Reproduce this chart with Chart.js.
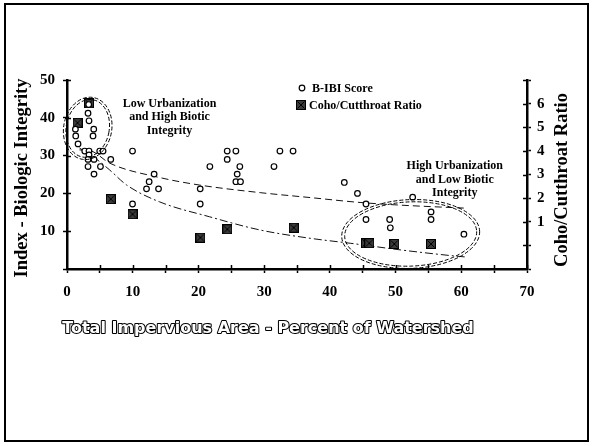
<!DOCTYPE html>
<html>
<head>
<meta charset="utf-8">
<script src="https://cdn.jsdelivr.net/npm/chart.js@4/dist/chart.umd.min.js"></script>
<style>
  html, body { margin: 0; padding: 0; background: #fff; }
  #wrap { position: relative; width: 592px; height: 446px; }
  #frame { position: absolute; left: 4px; top: 3px; width: 581px; height: 435px; border: 2px solid #000; pointer-events: none; }
</style>
</head>
<body>
<div id="wrap">
  <canvas id="c" width="592" height="446"></canvas>
  <div id="frame"></div>
</div>
<script>
// B-IBI scores by total impervious area (%)
const bibiX = [3.2, 3.35, 3.3, 4.07, 3.96, 1.28, 1.33, 1.68, 2.7, 3.35, 4.98, 5.49, 3.35, 3.2, 4.11, 6.66,
               3.2, 5.09, 4.11, 9.97, 13.26, 12.5, 12.1, 13.93, 9.97, 20.27, 20.27, 21.74, 24.38, 25.7,
               24.38, 26.3, 25.9, 25.7, 26.4, 31.5, 32.4, 34.4, 42.2, 44.2, 45.5, 45.5, 49.1, 49.2,
               52.6, 55.4, 55.4, 60.4];
const bibiY = [41.2, 39.2, 43.5, 37.0, 35.2, 37.0, 35.2, 33.1, 31.2, 31.2, 31.2, 31.2, 30.2, 29.0, 29.0, 29.0,
               27.1, 27.1, 25.1, 31.2, 25.1, 23.1, 21.2, 21.2, 17.2, 21.2, 17.2, 27.1, 31.2, 31.2,
               29.0, 27.1, 25.1, 23.1, 23.1, 27.1, 31.2, 31.2, 22.9, 20.0, 17.2, 13.1, 13.1, 10.9,
               19.0, 15.1, 13.1, 9.2];

// Coho/cutthroat ratio by total impervious area (%)
const cohoX = [1.6, 3.35, 6.66, 9.97, 20.3, 24.4, 34.5, 45.5, 46.0, 49.8, 55.4];
const cohoRatio = [5.19, 6.01, 1.96, 1.32, 0.33, 0.68, 0.75, 0.09, 0.09, 0.06, 0.06];

// Fitted trend curves
const bibiTrendX = [1.9, 3.7, 6.5, 14.1, 20.2, 29.4, 37.0, 44.6, 50.7, 60.6];
const bibiTrendY = [31.5, 31.2, 28.0, 24.2, 22.2, 20.2, 18.9, 17.6, 16.9, 16.1];
const cohoTrendX = [1.9, 4.0, 6.5, 9.05, 14.1, 21.7, 29.4, 37.0, 43.1, 50.7, 58.3, 60.6];
const cohoTrendY = [4.12, 3.75, 3.19, 2.56, 1.84, 1.21, 0.65, 0.30, 0.09, -0.19, -0.43, -0.49];

// Axis ranges and labelled ticks
const xRange = [0, 70];
const bibiRange = [0, 50];
const ratioRange = [-1, 7];
const ratioLabels = [1, 2, 3, 4, 5, 6];

const lowNote = ['Low Urbanization', 'and High Biotic', 'Integrity'];
const highNote = ['High Urbanization', 'and Low Biotic', 'Integrity'];

const SERIF = '"Liberation Serif", "Times New Roman", serif';

function pts(xs, ys) { return xs.map((x, i) => ({ x: x, y: ys[i] })); }

// filled square marker with a cross through it
function makeSquare(size) {
  const c = document.createElement('canvas');
  c.width = size; c.height = size;
  const g = c.getContext('2d');
  g.fillStyle = '#3a3a3a';
  g.fillRect(0, 0, size, size);
  g.strokeStyle = '#000';
  g.lineWidth = 1;
  g.strokeRect(0.5, 0.5, size - 1, size - 1);
  g.beginPath();
  g.moveTo(1.5, 1.5); g.lineTo(size - 1.5, size - 1.5);
  g.moveTo(size - 1.5, 1.5); g.lineTo(1.5, size - 1.5);
  g.stroke();
  return c;
}
const squareMark = makeSquare(10);

const decor = {
  id: 'decor',
  afterDatasetsDraw(chart) {
    const g = chart.ctx;
    const xs = chart.scales.x, ys = chart.scales.y;
    const X = v => xs.getPixelForValue(v);
    const Y = v => ys.getPixelForValue(v);
    const W = v => X(v) - X(0);
    const H = v => Y(0) - Y(v);

    // circled groups
    g.save();
    g.strokeStyle = '#000';
    g.lineWidth = 1;
    g.setLineDash([4, 2]);
    const ell = (cx, cy, rx, ry, rot) => {
      g.beginPath();
      g.ellipse(X(cx), Y(cy), W(rx), H(ry), rot, 0, Math.PI * 2);
      g.stroke();
    };
    ell(3.15, 37.2, 3.28, 7.7, 0.18);
    ell(3.15, 37.2, 3.66, 8.3, 0.18);
    ell(52.3, 9.26, 10.05, 8.5, -0.04);
    ell(52.3, 9.26, 10.5, 9.1, -0.04);
    g.restore();

    // notes
    g.save();
    g.fillStyle = '#000';
    g.font = 'bold 12px ' + SERIF;
    g.textAlign = 'center';
    g.textBaseline = 'middle';
    lowNote.forEach((t, i) => g.fillText(t, X(15.6), Y(43.8) + i * 13.8));
    highNote.forEach((t, i) => g.fillText(t, X(59.0), Y(27.2) + i * 13.6));

    // legend
    g.textAlign = 'left';
    g.beginPath();
    g.arc(302, 88, 2.8, 0, Math.PI * 2);
    g.fillStyle = '#fff';
    g.fill();
    g.lineWidth = 1.2;
    g.strokeStyle = '#000';
    g.stroke();
    g.fillStyle = '#000';
    g.fillText('B-IBI Score', 312, 88.5);
    g.drawImage(squareMark, 296, 100);
    g.fillText('Coho/Cutthroat Ratio', 309, 105.5);
    g.restore();
  },
  afterDraw(chart) {
    const g = chart.ctx;
    const xs = chart.scales.x, ys = chart.scales.y, y2 = chart.scales.y2;
    g.save();
    g.strokeStyle = '#000';
    g.lineWidth = 1.5;
    g.beginPath();
    // inner halves of the tick marks
    xs.ticks.forEach(t => {
      if (t.value === xRange[0]) return;
      const p = Math.round(xs.getPixelForValue(t.value)) + 0.5;
      g.moveTo(p, xs.top); g.lineTo(p, xs.top - 4);
    });
    ys.ticks.forEach(t => {
      if (t.value === bibiRange[0]) return;
      const p = Math.round(ys.getPixelForValue(t.value)) + 0.5;
      g.moveTo(ys.right, p); g.lineTo(ys.right + 4, p);
    });
    y2.ticks.forEach(t => {
      if (t.value === ratioRange[0]) return;
      const p = Math.round(y2.getPixelForValue(t.value)) + 0.5;
      g.moveTo(y2.left, p); g.lineTo(y2.left - 4, p);
    });
    g.stroke();

    // axis titles
    g.fillStyle = '#000';
    g.font = 'bold 18.5px ' + SERIF;
    g.textAlign = 'center';
    g.textBaseline = 'middle';
    g.save();
    g.translate(22, 178);
    g.rotate(-Math.PI / 2);
    g.fillText('Index - Biologic Integrity', 0, 0);
    g.restore();
    g.save();
    g.translate(562, 180);
    g.rotate(-Math.PI / 2);
    g.fillText('Coho/Cutthroat Ratio', 0, 0);
    g.restore();

    // hollow x-axis title
    g.font = 'bold 16px "DejaVu Sans", sans-serif';
    g.lineJoin = 'round';
    g.lineWidth = 2.1;
    g.strokeStyle = '#000';
    g.strokeText('Total Impervious Area - Percent of Watershed', 268, 329);
    g.fillStyle = '#fff';
    g.fillText('Total Impervious Area - Percent of Watershed', 268, 329);
    g.restore();
  }
};

const tickFont = { family: SERIF, size: 15, weight: 'bold' };
const axisGrid = { display: true, drawOnChartArea: false, drawTicks: true, tickLength: 4, color: '#000', tickColor: '#000', tickWidth: 1.5 };
const axisBorder = { display: true, color: '#000', width: 2.5 };

new Chart(document.getElementById('c'), {
  type: 'scatter',
  data: {
    datasets: [
      {
        label: 'Coho/Cutthroat Ratio',
        data: pts(cohoX, cohoRatio),
        yAxisID: 'y2',
        pointStyle: squareMark,
        pointRadius: 5,
        order: 1
      },
      {
        label: 'B-IBI Score',
        data: pts(bibiX, bibiY),
        yAxisID: 'y',
        pointStyle: 'circle',
        pointRadius: 2.8,
        borderWidth: 1.2,
        borderColor: '#000',
        backgroundColor: '#fff',
        order: 0
      },
      {
        label: 'B-IBI trend',
        data: pts(bibiTrendX, bibiTrendY),
        yAxisID: 'y',
        showLine: true,
        pointRadius: 0,
        borderColor: '#111',
        borderWidth: 1,
        borderDash: [7, 4],
        cubicInterpolationMode: 'monotone',
        order: 2
      },
      {
        label: 'Coho trend',
        data: pts(cohoTrendX, cohoTrendY),
        yAxisID: 'y2',
        showLine: true,
        pointRadius: 0,
        borderColor: '#111',
        borderWidth: 1,
        borderDash: [8, 3, 2, 3],
        cubicInterpolationMode: 'monotone',
        order: 2
      }
    ]
  },
  options: {
    responsive: false,
    animation: false,
    devicePixelRatio: 1,
    layout: { padding: { top: 80, left: 0, right: 0, bottom: 0 } },
    plugins: { legend: { display: false }, tooltip: { enabled: false } },
    scales: {
      x: {
        type: 'linear', position: 'bottom', min: xRange[0], max: xRange[1],
        ticks: { stepSize: 5, autoSkip: false, maxRotation: 0, color: '#000', font: tickFont, padding: 10,
                 callback: v => (v % 10 === 0 ? String(v) : '') },
        grid: axisGrid, border: axisBorder,
        afterFit: s => { s.height = 177; }
      },
      y: {
        type: 'linear', position: 'left', min: bibiRange[0], max: bibiRange[1],
        ticks: { stepSize: 10, color: '#000', font: tickFont, padding: 8,
                 callback: v => (v === 0 ? '' : String(v)) },
        grid: axisGrid, border: axisBorder,
        afterFit: s => { s.width = 67; }
      },
      y2: {
        type: 'linear', position: 'right', min: ratioRange[0], max: ratioRange[1],
        ticks: { stepSize: 1, color: '#000', font: tickFont, padding: 6,
                 callback: v => (ratioLabels.includes(v) ? String(v) : '') },
        grid: axisGrid, border: axisBorder,
        afterFit: s => { s.width = 65; }
      }
    }
  },
  plugins: [decor]
});
</script>
</body>
</html>
